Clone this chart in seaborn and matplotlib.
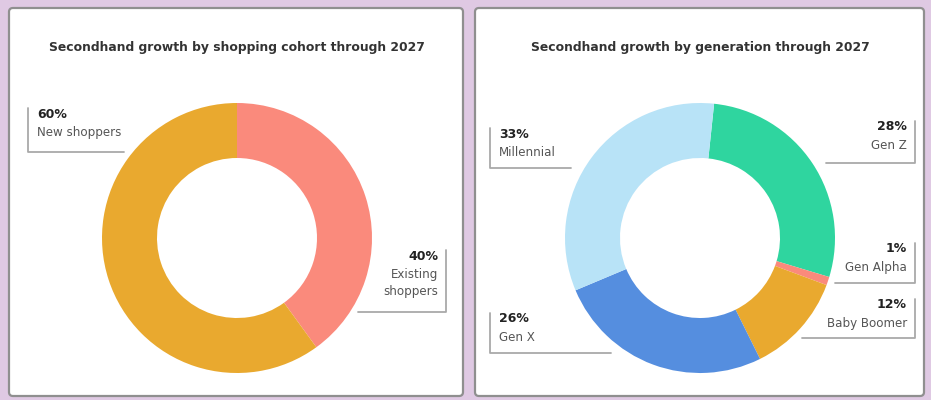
import matplotlib
matplotlib.use("Agg")
import matplotlib.pyplot as plt
import seaborn as sns
from matplotlib.patches import FancyBboxPatch

# data
cohort_labels = ["Existing\nshoppers", "New shoppers"]
cohort_values = [40, 60]
cohort_colors = ["#fa8a7c", "#e9a92f"]

gen_labels = ["Gen Z", "Gen Alpha", "Baby Boomer", "Gen X", "Millennial"]
gen_values = [28, 1, 12, 26, 33]
gen_colors = ["#2fd59f", "#fa8a7c", "#e9a92f", "#558edf", "#b8e3f7"]

titles = ["Secondhand growth by shopping cohort through 2027",
          "Secondhand growth by generation through 2027"]

sns.set_style("white")
plt.rcParams["font.family"] = ["DejaVu Sans"]

W, H = 931, 400
fig = plt.figure(figsize=(W / 100, H / 100), dpi=100)
fig.patch.set_facecolor("#dfc9e3")
ax = fig.add_axes([0, 0, 1, 1])


def Y(py):
    # pixel row -> data y
    return H - py


# panels
for x0, x1 in [(9, 463), (475, 924)]:
    ax.add_patch(FancyBboxPatch((x0, Y(396)), x1 - x0, 388,
                                boxstyle="round,pad=0,rounding_size=4",
                                facecolor="white", edgecolor="#8f8f8f", lw=1.6, zorder=1))

ax.text(237, Y(47), titles[0], ha="center", va="center", fontsize=8.9,
        fontweight="bold", color="#333333", zorder=3)
ax.text(700, Y(47), titles[1], ha="center", va="center", fontsize=8.9,
        fontweight="bold", color="#333333", zorder=3)

# donuts
wp = dict(width=55, edgecolor="none")
w1, _ = ax.pie(cohort_values, colors=cohort_colors, startangle=90, counterclock=False,
               center=(237, Y(238)), radius=135, wedgeprops=wp, frame=True)
w2, _ = ax.pie(gen_values, colors=gen_colors, startangle=84, counterclock=False,
               center=(700, Y(238)), radius=135, wedgeprops=wp, frame=True)
for w in w1 + w2:
    w.set_zorder(2)
ax.set_xlim(0, W)
ax.set_ylim(0, H)
ax.set_aspect("equal")
ax.axis("off")

line_kw = dict(color="#a9a9a9", lw=1.3, zorder=3, solid_capstyle="round")


def label(side, xv, xh, ytop, ybot, pct, name):
    # bracket
    ax.plot([xv, xv, xh], [Y(ytop), Y(ybot), Y(ybot)], **line_kw)
    if side == "left":
        tx, ha = xv + 9, "left"
    else:
        tx, ha = xv - 8, "right"
    ax.text(tx, Y(ytop + 6), pct, ha=ha, va="center", fontsize=9,
            fontweight="bold", color="#222222", zorder=3)
    ax.text(tx, Y(ytop + 18), name, ha=ha, va="top", fontsize=8.6,
            color="#555555", linespacing=1.35, zorder=3)


label("left", 28, 124, 108, 152, f"{cohort_values[1]}%", cohort_labels[1])
label("right", 446, 358, 250, 312, f"{cohort_values[0]}%", cohort_labels[0])

label("left", 490, 571, 128, 168, f"{gen_values[4]}%", gen_labels[4])
label("right", 915, 826, 121, 163, f"{gen_values[0]}%", gen_labels[0])
label("right", 915, 835, 243, 283, f"{gen_values[1]}%", gen_labels[1])
label("right", 915, 802, 299, 338, f"{gen_values[2]}%", gen_labels[2])
label("left", 490, 611, 313, 353, f"{gen_values[3]}%", gen_labels[3])

fig.savefig("out.png", dpi=100, facecolor=fig.get_facecolor())
